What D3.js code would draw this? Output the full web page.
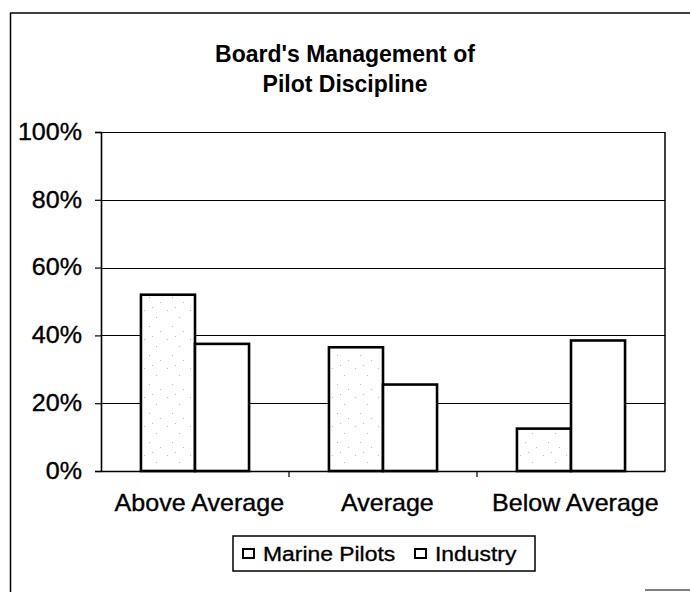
<!DOCTYPE html>
<html>
<head>
<meta charset="utf-8">
<script src="https://cdn.jsdelivr.net/npm/d3@7"></script>
<style>
  body { margin: 0; background: #fff; }
  text { font-family: "Liberation Sans", Arial, sans-serif; fill: #000; }
  .lbl { stroke: #000; stroke-width: 0.35px; }
</style>
</head>
<body>
<div id="chart"></div>
<script>
var categories = ['Above Average', 'Average', 'Below Average'];
var seriesNames = ['Marine Pilots', 'Industry'];
var marinePilots = [0.52, 0.365, 0.125];
var industry = [0.375, 0.255, 0.385];
var yTicks = [0, 0.2, 0.4, 0.6, 0.8, 1.0];
var titleLines = ["Board's Management of", 'Pilot Discipline'];

var width = 690,
    height = 592;
var margin = { top: 132, right: 25, bottom: 121, left: 101 };
var stretch = 1.09; // the scanned labels are a bit wider than plain Arial

var svg = d3.select('#chart')
            .append('svg')
            .attr('width', width)
            .attr('height', height);

// stippled fill for the marine pilot bars
var defs = svg.append('defs');
var pat = defs.append('pattern')
              .attr('id', 'stipple')
              .attr('patternUnits', 'userSpaceOnUse')
              .attr('width', 23).attr('height', 29);
pat.append('rect').attr('width', 23).attr('height', 29).attr('fill', '#fff');
[[3, 4], [15, 11], [8, 20], [19, 25], [11, 1]].forEach(function(p) {
  pat.append('rect').attr('x', p[0]).attr('y', p[1])
     .attr('width', 1).attr('height', 1).attr('fill', '#b8b8b8');
});

// outer frame (scanned page edges)
svg.append('line').attr('x1', 10).attr('y1', 13).attr('x2', 690).attr('y2', 13)
   .attr('stroke', '#000').attr('stroke-width', 1.5);
svg.append('line').attr('x1', 10.5).attr('y1', 13).attr('x2', 10.5).attr('y2', 592)
   .attr('stroke', '#000').attr('stroke-width', 1.5);
svg.append('line').attr('x1', 645).attr('y1', 590).attr('x2', 690).attr('y2', 590)
   .attr('stroke', '#555').attr('stroke-width', 1.5);

// title
svg.append('text')
   .attr('x', 345).attr('y', 62)
   .attr('text-anchor', 'middle')
   .style('font-size', '23px').style('font-weight', 'bold')
   .selectAll('tspan').data(titleLines).enter()
   .append('tspan')
   .attr('x', 345)
   .attr('dy', function(d, i) { return i === 0 ? 0 : 30; })
   .text(function(d) { return d; });

var innerW = width - margin.left - margin.right,
    innerH = height - margin.top - margin.bottom;

var g = svg.append('g')
           .attr('transform', 'translate(' + margin.left + ',' + margin.top + ')');

var x = d3.scaleBand().domain(categories).range([0, innerW]);
var y = d3.scaleLinear().domain([0, 1]).range([innerH, 0]);
var groupW = x.bandwidth() * 0.575;
var xs = d3.scaleBand().domain(seriesNames).range([0, groupW]);

// gridlines
g.selectAll('.grid').data(yTicks.slice(1)).enter()
 .append('line')
 .attr('x1', 0).attr('x2', innerW)
 .attr('y1', function(d) { return Math.round(y(d)) + 0.5; })
 .attr('y2', function(d) { return Math.round(y(d)) + 0.5; })
 .attr('stroke', '#000').attr('stroke-width', 1.2);

// right frame of the plot
g.append('line').attr('x1', innerW).attr('x2', innerW)
 .attr('y1', 0).attr('y2', innerH)
 .attr('stroke', '#000').attr('stroke-width', 1.5);

// bars
var rows = categories.map(function(c, i) {
  return { cat: c, vals: [marinePilots[i], industry[i]] };
});
var grp = g.selectAll('.grp').data(rows).enter()
           .append('g')
           .attr('transform', function(d) {
             return 'translate(' + (x(d.cat) + (x.bandwidth() - groupW) / 2) + ',0)';
           });
grp.selectAll('rect')
   .data(function(d) {
     return d.vals.map(function(v, j) { return { s: seriesNames[j], v: v }; });
   })
   .enter().append('rect')
   .attr('x', function(d) { return xs(d.s); })
   .attr('y', function(d) { return y(d.v); })
   .attr('width', xs.bandwidth())
   .attr('height', function(d) { return innerH - y(d.v); })
   .attr('fill', function(d) { return d.s === 'Marine Pilots' ? 'url(#stipple)' : '#fff'; })
   .attr('stroke', '#000').attr('stroke-width', 2.6);

// y axis
var yAxis = g.append('g')
  .call(d3.axisLeft(y).tickValues(yTicks).tickFormat(d3.format('.0%')).tickSize(6).tickPadding(19 / stretch - 6));
yAxis.select('.domain').attr('stroke-width', 1.6);
yAxis.selectAll('line').attr('stroke-width', 1.2);
yAxis.selectAll('text')
     .attr('class', 'lbl')
     .attr('transform', 'scale(' + stretch + ',1)')
     .style('font-size', '23px').style('font-family', '"Liberation Sans", Arial, sans-serif');

// x axis
var xAxis = g.append('g')
  .attr('transform', 'translate(0,' + innerH + ')')
  .call(d3.axisBottom(x).tickSize(0).tickPadding(24));
xAxis.select('.domain').attr('stroke-width', 1.6);
xAxis.selectAll('text')
     .attr('class', 'lbl')
     .attr('x', 4)
     .attr('transform', 'scale(' + stretch + ',1)')
     .style('font-size', '23px').style('font-family', '"Liberation Sans", Arial, sans-serif');
g.selectAll('.xtick').data(categories.slice(1)).enter()
 .append('line')
 .attr('x1', function(d) { return x(d); }).attr('x2', function(d) { return x(d); })
 .attr('y1', innerH).attr('y2', innerH + 6)
 .attr('stroke', '#000').attr('stroke-width', 1.2);

// legend
var legend = svg.append('g').attr('transform', 'translate(233,536)');
legend.append('rect').attr('width', 302).attr('height', 35)
      .attr('fill', '#fff').attr('stroke', '#000').attr('stroke-width', 1.5);
var legendX = [10, 182];
var item = legend.selectAll('.item').data(seriesNames).enter()
                 .append('g')
                 .attr('transform', function(d, i) { return 'translate(' + legendX[i] + ',0)'; });
item.append('rect').attr('x', 0).attr('y', 13).attr('width', 11).attr('height', 9)
    .attr('fill', '#fff').attr('stroke', '#000').attr('stroke-width', 2);
item.append('text').attr('class', 'lbl')
    .attr('x', 20 / stretch).attr('y', 25)
    .attr('transform', 'scale(' + stretch + ',1)')
    .style('font-size', '21px')
    .text(function(d) { return d; });
</script>
</body>
</html>
